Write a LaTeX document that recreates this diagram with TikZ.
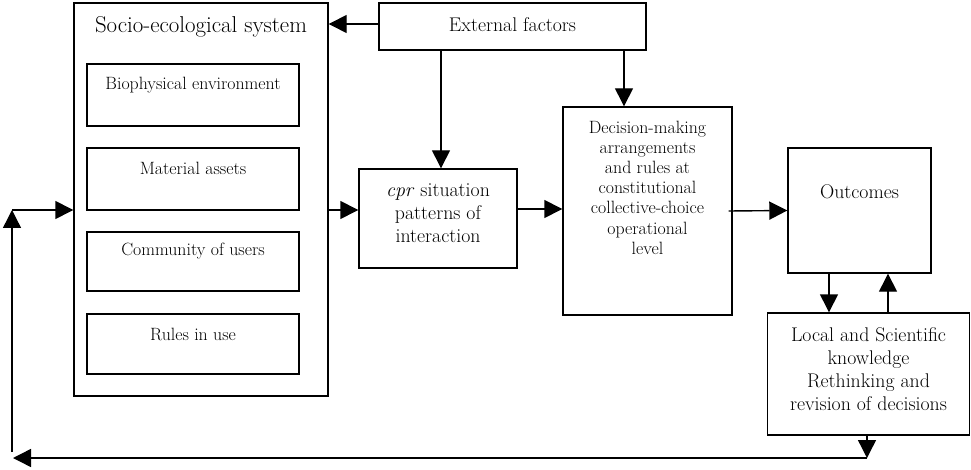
\documentclass[tikz,border=0pt]{standalone}
\usetikzlibrary{arrows.meta}
\begin{document}
\begin{tikzpicture}[x=1pt,y=-1pt,
  box/.style={draw, line width=1.4pt, inner sep=0pt},
  arr/.style={line width=1.4pt, -{Triangle[length=18pt,width=18pt]}},
  sm/.style={inner sep=0pt, align=center, font=\fontsize{17.8}{20.2}\selectfont},
  md/.style={inner sep=0pt, align=center, font=\fontsize{19.8}{23}\selectfont},
  tt/.style={inner sep=0pt, align=center, font=\fontsize{22.9}{26}\selectfont}]
\useasboundingbox (0,0) rectangle (971,470);
% boxes
\node[box, minimum width=254pt, minimum height=393pt] (ses) at (201,199.5) {};
\node[tt] (sest) at (201,27) {Socio-ecological system};
\node[box, minimum width=212pt, minimum height=62pt] (bio) at (193,95) {};
\node[sm] (biot) at (193,85) {Biophysical environment};
\node[box, minimum width=212pt, minimum height=62pt] (mat) at (193,179) {};
\node[sm] (matt) at (193,168) {Material assets};
\node[box, minimum width=212pt, minimum height=59pt] (com) at (193,261.5) {};
\node[sm] (comt) at (193,251) {Community of users};
\node[box, minimum width=212pt, minimum height=60pt] (rul) at (193,344) {};
\node[sm] (rult) at (193,334) {Rules in use};
\node[box, minimum width=267pt, minimum height=47pt] (ext) at (512.5,26.5) {};
\node[md] (extt) at (512.5,25) {External factors};
\node[box, minimum width=158pt, minimum height=99pt] (cpr) at (438,218.5) {};
\node[md] (cprt) at (438,213) {\textit{cpr} situation\\patterns of\\interaction};
\node[box, minimum width=169pt, minimum height=208pt] (dec) at (647.5,211) {};
\node[sm] (dect) at (647.5,187.5) {Decision-making\\arrangements\\and rules at\\constitutional\\collective-choice\\operational\\level};
\node[box, minimum width=143pt, minimum height=125pt] (out) at (859.5,210.5) {};
\node[md] (outt) at (859.5,192) {Outcomes};
\node[box, minimum width=202pt, minimum height=122pt] (loc) at (868.5,374) {};
\node[md] (loct) at (868.5,369.5) {Local and Scientific\\knowledge\\Rethinking and\\revision of decisions};
% helper coordinates
\coordinate (xa) at (441,0);
\coordinate (xb) at (624,0);
\coordinate (xc) at (829,0);
\coordinate (xd) at (888,0);
\coordinate (ye) at (0,24);
\coordinate (yf) at (0,210);
\coordinate (yg) at (0,209);
\coordinate (b1) at (867,458);
\coordinate (b2) at (13,458);
\coordinate (v0) at (12,452);
\coordinate (v1) at (12,210);
% connectors
\draw[arr] (ext.west |- ye) -- (ses.east |- ye);
\draw[arr] (ext.south -| xa) -- (cpr.north -| xa);
\draw[arr] (ext.south -| xb) -- (dec.north -| xb);
\draw[arr] (ses.east |- yf) -- (cpr.west |- yf);
\draw[arr] (cpr.east |- yg) -- (dec.west |- yg);
\draw[arr] ([xshift=-4pt]dec.east) -- (out.west);
\draw[arr] (out.south -| xc) -- (loc.north -| xc);
\draw[arr] (loc.north -| xd) -- (out.south -| xd);
\draw[arr] (loc.south -| b1) -- (b1);
\draw[arr] (b1) -- (b2);
\draw[arr] (v0) -- (v1);
\draw[arr] (v1) -- (ses.west |- v1);
\end{tikzpicture}
\end{document}
